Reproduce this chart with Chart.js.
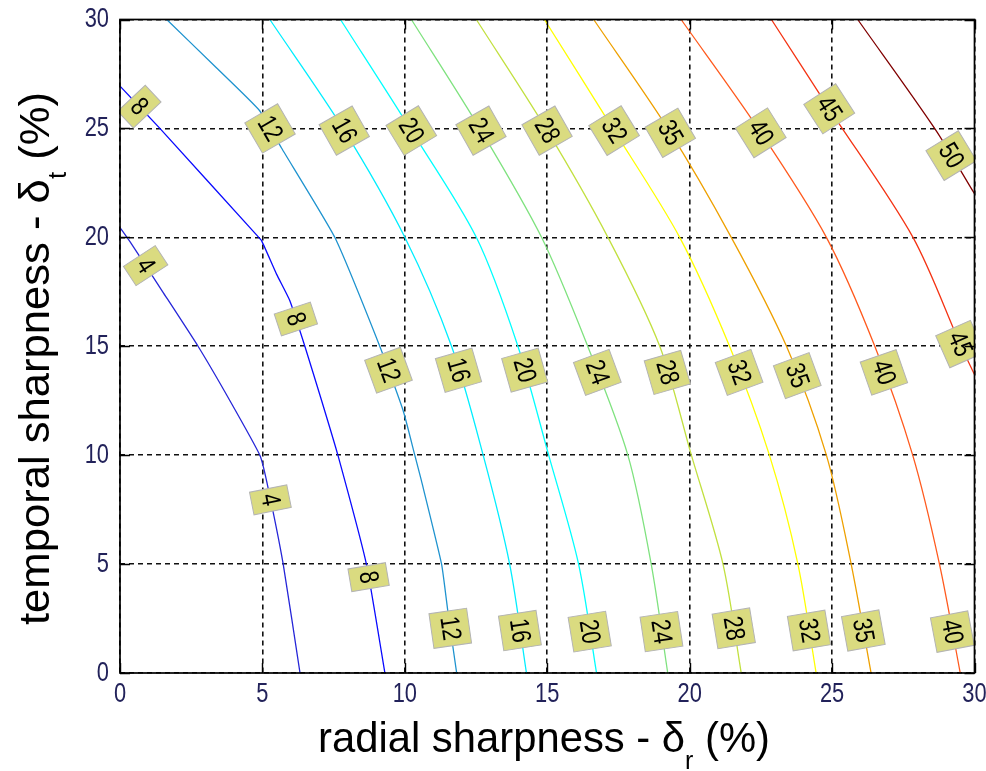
<!DOCTYPE html>
<html lang="en">

<head>
    <meta charset="UTF-8">
    <meta name="viewport" content="width=device-width, initial-scale=1.0">
    <script src="https://cdn.jsdelivr.net/npm/chart.js"></script>
    <title>Radial vs temporal sharpness</title>
    <style>
        body { margin: 0; background: #fff; }
    </style>
</head>

<body>
    <canvas id="myChart" width="986" height="771"></canvas>

    <script>
        // contour levels and line colours
        const levels = [4, 8, 12, 16, 20, 24, 28, 32, 35, 40, 45, 50];
        const levelColors = ['#2626d8', '#0a0aff', '#1f93cf', '#00eeff', '#00ffff', '#7fe27f',
            '#c2e040', '#ffff00', '#eea000', '#ff5a1e', '#f43414', '#800000'];

        // axis ticks (%)
        const xTicks = [0, 5, 10, 15, 20, 25, 30];
        const yTicks = [0, 5, 10, 15, 20, 25, 30];

        // contour lines, [radial %, temporal %] top to bottom
        const c4 = [[0, 20.45], [0.35, 19.8], [1.5, 17.5], [2.74, 15], [3.86, 12.5], [4.91, 10], [5.15, 8.8], [5.73, 5], [6.32, 0]];
        const c8 = [[0, 26.94], [1.4, 25], [4.8, 20.1], [4.97, 19.85], [5.5, 18.3], [5.96, 17.1], [6.49, 15], [7.08, 12.5], [7.65, 10], [8.65, 5], [9.3, 0]];
        const c12 = [[1.64, 30], [3.33, 27.85], [4.91, 25.8], [5.67, 24.1], [7.54, 20], [9.12, 15], [9.94, 12.05], [10.35, 10], [10.58, 8.84], [11.29, 5], [11.52, 2.73], [11.82, 0]];
        const c16 = [[5.26, 30], [7.83, 25], [10.0, 20], [11.64, 15], [12.75, 10], [13.68, 5], [14.27, 0]];
        const c20 = [[7.74, 30], [10.18, 25], [12.51, 20], [13.97, 15], [15.05, 10], [16.1, 5], [16.73, 0]];
        const c24 = [[10.23, 30], [12.63, 25], [14.8, 20], [16.42, 15], [17.83, 10], [18.65, 5], [19.23, 0]];
        const c28 = [[12.51, 30], [14.95, 25], [17.13, 20], [18.95, 15], [20.06, 10], [21.17, 5], [21.81, 0]];
        const c32 = [[14.9, 30], [17.3, 25], [19.65, 20], [21.4, 15], [22.8, 10], [23.8, 5], [24.44, 0]];
        const c35 = [[16.63, 30], [19.23, 25], [21.46, 20], [23.4, 15], [24.8, 10], [25.67, 5], [26.37, 0]];
        const c40 = [[19.7, 30], [22.4, 25], [24.8, 20], [26.5, 15], [27.83, 10], [28.77, 5], [29.5, 0]];
        const c45 = [[22.87, 30], [24.9, 25.9], [27.84, 20], [29.53, 15], [30, 13.7]];
        const c50 = [[25.9, 30], [28.6, 25], [30, 22]];
        const contours = [c4, c8, c12, c16, c20, c24, c28, c32, c35, c40, c45, c50];

        // temporal sharpness where each contour carries a label
        const labelAtY = [
            [18.7, 7.95],
            [26.0, 16.25, 4.4],
            [25.0, 13.9, 2.05],
            [24.9, 13.9, 1.95],
            [24.9, 13.9, 1.9],
            [24.9, 13.8, 1.9],
            [24.9, 13.8, 2.05],
            [24.9, 13.8, 1.95],
            [24.8, 13.65, 1.95],
            [24.8, 13.8, 1.9],
            [25.9, 15.1],
            [23.75]
        ];

        const FONT = 'Arial, "Liberation Sans", Helvetica, sans-serif';

        // find the point on a contour polyline at a given y
        function pointAtY(pts, y) {
            for (let i = 0; i < pts.length - 1; i++) {
                const [x1, y1] = pts[i];
                const [x2, y2] = pts[i + 1];
                if (y1 !== y2 && (y1 - y) * (y2 - y) <= 0) {
                    const t = (y - y1) / (y2 - y1);
                    return { x: x1 + t * (x2 - x1), y: y, a: pts[i], b: pts[i + 1] };
                }
            }
            return null;
        }

        const datasets = contours.map((pts, i) => ({
            label: String(levels[i]),
            data: pts.map(p => ({ x: p[0], y: p[1] })),
            showLine: true,
            borderColor: levelColors[i],
            backgroundColor: levelColors[i],
            borderWidth: 1.3,
            pointRadius: 0,
            tension: i < 3 ? 0.15 : 0.3
        }));

        // contour labels: khaki boxes turned along the line
        const contourLabels = {
            id: 'contourLabels',
            afterDatasetsDraw(chart) {
                const { ctx, chartArea, scales } = chart;
                ctx.save();
                ctx.beginPath();
                ctx.rect(chartArea.left, chartArea.top, chartArea.right - chartArea.left, chartArea.bottom - chartArea.top);
                ctx.clip();
                contours.forEach((pts, i) => {
                    labelAtY[i].forEach(y => {
                        const p = pointAtY(pts, y);
                        if (!p) return;
                        const cx = scales.x.getPixelForValue(p.x);
                        const cy = scales.y.getPixelForValue(p.y);
                        const ax = scales.x.getPixelForValue(p.a[0]), ay = scales.y.getPixelForValue(p.a[1]);
                        const bx = scales.x.getPixelForValue(p.b[0]), by = scales.y.getPixelForValue(p.b[1]);
                        const ang = Math.atan2(by - ay, bx - ax);
                        const text = String(levels[i]);
                        ctx.save();
                        ctx.translate(cx, cy);
                        ctx.rotate(ang);
                        ctx.font = '27px ' + FONT;
                        const tw = ctx.measureText(text).width * 0.8;
                        const L = tw + 11, T = 38;
                        ctx.fillStyle = '#dadb80';
                        ctx.fillRect(-L / 2, -T / 2, L, T);
                        ctx.strokeStyle = '#b4b4b4';
                        ctx.lineWidth = 1;
                        ctx.strokeRect(-L / 2, -T / 2, L, T);
                        ctx.scale(0.8, 1);
                        ctx.fillStyle = '#000';
                        ctx.textAlign = 'center';
                        ctx.textBaseline = 'middle';
                        ctx.fillText(text, 0, 1);
                        ctx.restore();
                    });
                });
                ctx.restore();
            }
        };

        // box, inward ticks, tick labels and axis titles
        const axesFrame = {
            id: 'axesFrame',
            afterDraw(chart) {
                const { ctx, chartArea, scales } = chart;
                const { left, right, top, bottom } = chartArea;
                ctx.save();
                ctx.strokeStyle = '#000';
                ctx.lineWidth = 1.4;
                ctx.setLineDash([]);
                ctx.beginPath();
                xTicks.forEach(v => {
                    const px = Math.round(scales.x.getPixelForValue(v)) + 0.5;
                    ctx.moveTo(px, bottom); ctx.lineTo(px, bottom - 10);
                    ctx.moveTo(px, top); ctx.lineTo(px, top + 10);
                });
                yTicks.forEach(v => {
                    const py = Math.round(scales.y.getPixelForValue(v)) + 0.5;
                    ctx.moveTo(left, py); ctx.lineTo(left + 10, py);
                    ctx.moveTo(right, py); ctx.lineTo(right - 10, py);
                });
                ctx.stroke();
                ctx.lineWidth = 1.7;
                ctx.strokeRect(left, top, right - left, bottom - top);

                // tick labels
                ctx.fillStyle = '#22225a';
                ctx.font = '28px ' + FONT;
                ctx.textBaseline = 'middle';
                xTicks.forEach(v => {
                    const px = scales.x.getPixelForValue(v);
                    ctx.save();
                    ctx.translate(px, 694);
                    ctx.scale(0.78, 1);
                    ctx.textAlign = 'center';
                    ctx.fillText(String(v), 0, 0);
                    ctx.restore();
                });
                yTicks.forEach(v => {
                    const py = scales.y.getPixelForValue(v);
                    ctx.save();
                    ctx.translate(109, py);
                    ctx.scale(0.78, 1);
                    ctx.textAlign = 'right';
                    ctx.fillText(String(v), 0, 0);
                    ctx.restore();
                });

                // axis titles with subscripts
                ctx.fillStyle = '#000';
                ctx.textBaseline = 'alphabetic';
                ctx.textAlign = 'left';
                drawTitle(ctx, 'radial sharpness - \u03b4', 'r', ' (%)', 318, 752, 452, 0);
                drawTitle(ctx, 'temporal sharpness - \u03b4', 't', ' (%)', 49, 625, 533, -Math.PI / 2);
                ctx.restore();
            }
        };

        function drawTitle(ctx, head, sub, tail, x, y, span, rot) {
            ctx.save();
            ctx.translate(x, y);
            ctx.rotate(rot);
            ctx.font = '42px ' + FONT;
            const w1 = ctx.measureText(head).width;
            const w3 = ctx.measureText(tail).width;
            ctx.font = '25px ' + FONT;
            const w2 = ctx.measureText(sub).width;
            ctx.scale(span / (w1 + w2 + w3), 1);
            ctx.font = '42px ' + FONT;
            ctx.fillText(head, 0, 0);
            ctx.fillText(tail, w1 + w2, 0);
            ctx.font = '25px ' + FONT;
            ctx.fillText(sub, w1, 17);
            ctx.restore();
        }

        const ctx = document.getElementById('myChart').getContext('2d');
        const myChart = new Chart(ctx, {
            type: 'scatter',
            data: { datasets: datasets },
            options: {
                responsive: false,
                animation: false,
                events: [],
                layout: { padding: { left: 0, right: 11.5, top: 19.5, bottom: 0 } },
                plugins: {
                    legend: { display: false },
                    tooltip: { enabled: false }
                },
                scales: {
                    x: {
                        type: 'linear',
                        min: 0,
                        max: 30,
                        ticks: { stepSize: 5, display: false },
                        grid: { color: '#111', lineWidth: 1.6, drawTicks: false },
                        border: { display: false, dash: [5, 4] },
                        afterFit: s => { s.height = 98; }
                    },
                    y: {
                        type: 'linear',
                        min: 0,
                        max: 30,
                        ticks: { stepSize: 5, display: false },
                        grid: { color: '#111', lineWidth: 1.6, drawTicks: false },
                        border: { display: false, dash: [5, 4] },
                        afterFit: s => { s.width = 120; }
                    }
                }
            },
            plugins: [contourLabels, axesFrame]
        });
    </script>
</body>

</html>
